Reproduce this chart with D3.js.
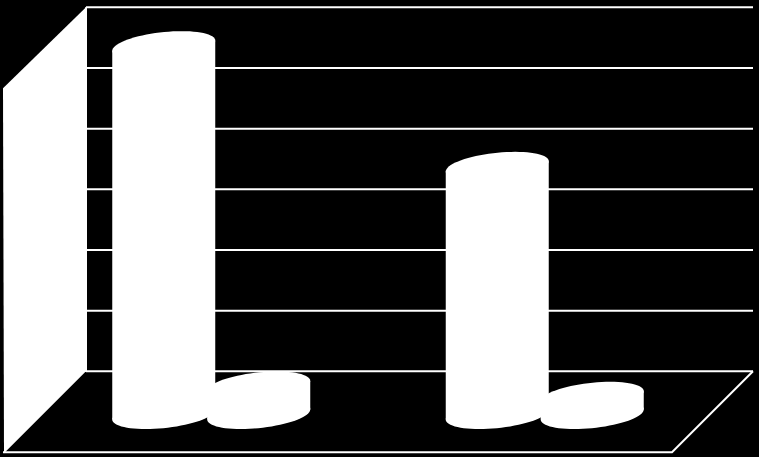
<!DOCTYPE html>
<html lang="en">
<head>
  <meta charset="UTF-8" />
  <title>3D cylinder chart</title>
  <script src="https://d3js.org/d3.v7.min.js"></script>
  <style>
    html, body {
      margin: 0;
      padding: 0;
      background-color: #000;
      overflow: hidden;
    }
    svg {
      display: block;
    }
  </style>
</head>
<body>
  <svg></svg>

  <script>
    // values (no labels in the original, units are a guess)
    const categories = ["A", "B"];
    const seriesNames = ["first", "second"];
    const firstValues = [60.8, 40.9];
    const secondValues = [4.7, 3.0];
    const yTicks = [0, 10, 20, 30, 40, 50, 60];

    const width = 759;
    const height = 457;

    const svg = d3.select("svg")
      .attr("width", width)
      .attr("height", height);

    // back wall rectangle and how far the floor comes forward
    const wallLeft = 86, wallRight = 753, wallTop = 7.3, wallBottom = 371.3;
    const depthX = 81, depthY = 81;
    const leftEdge = 3;

    const y = d3.scaleLinear().domain([0, 60]).range([wallBottom, wallTop]);

    const x0 = d3.scaleBand().domain(categories).range([44.5, 711.5]);
    const x1 = d3.scaleBand().domain(seriesNames).range([-95, 95]);

    // gridlines on the back wall
    const axis = svg.append("g")
      .attr("transform", `translate(${wallLeft},0)`)
      .call(d3.axisLeft(y).offset(0).tickValues(yTicks).tickSize(-(wallRight - wallLeft)).tickFormat(""));
    axis.select(".domain").remove();
    axis.selectAll("line").attr("stroke", "#fff").attr("stroke-width", 2);

    svg.append("line")
      .attr("x1", wallLeft).attr("x2", wallLeft)
      .attr("y1", wallTop).attr("y2", wallBottom)
      .attr("stroke", "#fff").attr("stroke-width", 2);

    // left wall, solid white
    const poly = d3.line();
    svg.append("path")
      .attr("d", poly([
        [leftEdge, wallTop + depthY],
        [wallLeft, wallTop],
        [wallLeft, wallBottom],
        [leftEdge + 4, wallBottom + depthY - 2],
        [leftEdge + 1, wallBottom + depthY + 1]
      ]) + "Z")
      .attr("fill", "#fff");

    // floor outline
    svg.append("path")
      .attr("d", poly([
        [leftEdge, wallBottom + depthY],
        [wallRight - depthX, wallBottom + depthY],
        [wallRight, wallBottom]
      ]))
      .attr("fill", "none")
      .attr("stroke", "#fff")
      .attr("stroke-width", 2);

    // cylinders: ellipse is a floor circle pushed through the oblique projection
    const baseY = 414.5;
    const ringA = 48.25, ringB = 18, ringC = 14.5;
    const halfW = Math.sqrt(ringA * ringA + ringB * ringB);

    function ring(cx, cy) {
      return d3.range(0, 360, 5).map(deg => {
        const t = deg * Math.PI / 180;
        return [cx + ringA * Math.cos(t) + ringB * Math.sin(t), cy - ringC * Math.sin(t)];
      });
    }

    function drawCylinder(cx, value) {
      const h = y(0) - y(value);
      const g = svg.append("g").attr("fill", "#fff");
      const skew = ringC * ringB / halfW;
      g.append("path").attr("d", poly(ring(cx, baseY)) + "Z");
      g.append("path").attr("d", poly(ring(cx, baseY - h)) + "Z");
      g.append("path").attr("d", poly([
        [cx - halfW, baseY + skew],
        [cx + halfW, baseY - skew],
        [cx + halfW, baseY - h - skew],
        [cx - halfW, baseY - h + skew]
      ]) + "Z");
    }

    categories.forEach((cat, i) => {
      const mid = x0(cat) + x0.bandwidth() / 2;
      drawCylinder(mid + x1("first") + x1.bandwidth() / 2, firstValues[i]);
      drawCylinder(mid + x1("second") + x1.bandwidth() / 2, secondValues[i]);
    });
  </script>
</body>
</html>
